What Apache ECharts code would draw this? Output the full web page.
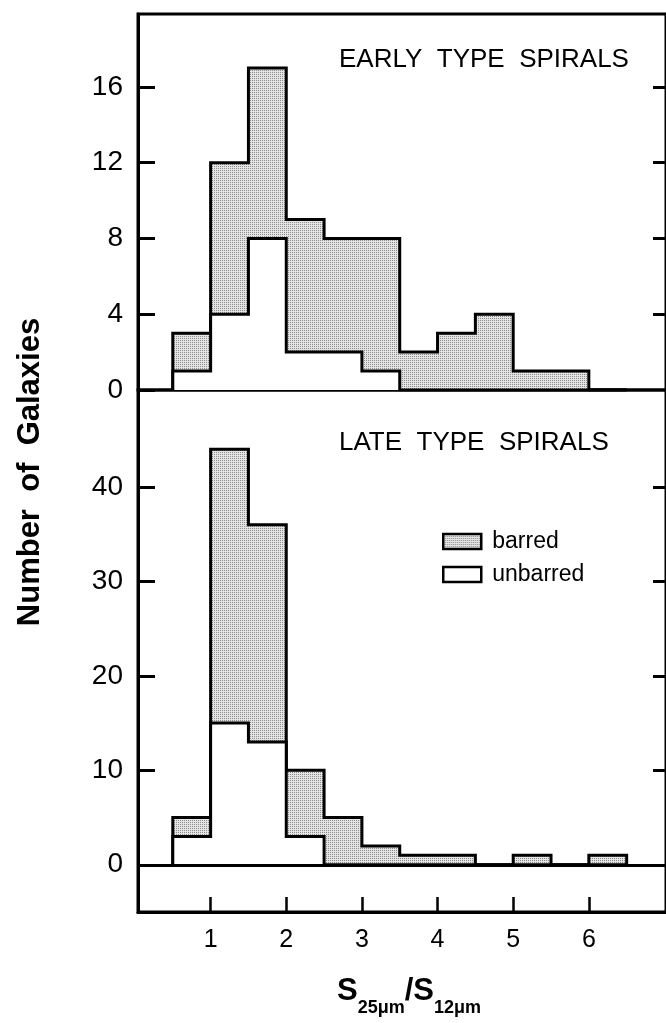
<!DOCTYPE html>
<html><head><meta charset="utf-8">
<script src="https://cdn.jsdelivr.net/npm/echarts@6/dist/echarts.min.js"></script>
<style>html,body{margin:0;padding:0;background:#fff}#c{width:666px;height:1023px}</style>
</head><body><div id="c"></div>
<script>
// ---- data ----
const binEdges = [0.5, 1, 1.5, 2, 2.5, 3, 3.5, 4, 4.5, 5, 5.5, 6, 6.5];
const earlyBarred   = [2, 8, 9, 7, 6, 7, 2, 3, 4, 1, 1, 0];
const earlyUnbarred = [1, 4, 8, 2, 2, 1, 0, 0, 0, 0, 0, 0];
const lateBarred    = [2, 29, 23, 7, 5, 2, 1, 1, 0, 1, 0, 1];
const lateUnbarred  = [3, 15, 13, 3, 0, 0, 0, 0, 0, 0, 0, 0];
const xTicks = [1, 2, 3, 4, 5, 6];
const earlyYTicks = [0, 4, 8, 12, 16];
const lateYTicks = [0, 10, 20, 30, 40];
const earlyTitle = 'EARLY  TYPE  SPIRALS';
const lateTitle = 'LATE  TYPE  SPIRALS';
const legendNames = ['barred', 'unbarred'];
const yName = 'Number  of  Galaxies';
const xNameParts = [['S', 'big'], ['25μm', 'sub'], ['/S', 'big'], ['12μm', 'sub']];

// ---- helpers ----
const FF = '"Liberation Sans", Arial, sans-serif';
function total(a, b) { return a.map((v, i) => v + b[i]); }
function steps(vals) {
  const pts = [[binEdges[0], 0]];
  vals.forEach((v, i) => { pts.push([binEdges[i], v]); pts.push([binEdges[i + 1], v]); });
  pts.push([binEdges[vals.length], 0]);
  return pts;
}
const pc = document.createElement('canvas');
pc.width = 2; pc.height = 2;
const g = pc.getContext('2d');
g.fillStyle = '#e4e4e4'; g.fillRect(0, 0, 2, 2);
g.fillStyle = '#8c8c8c'; g.fillRect(0, 0, 1, 1);
const fillPattern = { image: pc, repeat: 'repeat' };

const XMIN = 0.04, XMAX = 7.02;
function xAxisCfg(gi, showLabels) {
  return {
    type: 'value', gridIndex: gi, min: XMIN, max: XMAX, position: 'bottom',
    axisLine: { show: showLabels, onZero: false, lineStyle: { color: '#000', width: 3 } },
    axisTick: { show: showLabels, inside: true, length: 15, customValues: xTicks, lineStyle: { color: '#000', width: 2.5 } },
    axisLabel: { show: showLabels, customValues: xTicks, fontSize: 25, fontFamily: FF, color: '#000', margin: 16 },
    splitLine: { show: false }
  };
}
function yAxisCfg(gi, min, max, ticks, right) {
  return {
    type: 'value', gridIndex: gi, min: min, max: max, position: right ? 'right' : 'left',
    axisLine: { show: true, lineStyle: { color: '#000', width: 3 } },
    axisTick: { show: true, inside: true, length: right ? 13 : 17, customValues: right ? ticks.filter(t => t !== 0) : ticks, lineStyle: { color: '#000', width: 3 } },
    axisLabel: { show: !right, customValues: ticks, fontSize: 28, fontFamily: FF, color: '#000', margin: 15 },
    splitLine: { show: false }
  };
}
function lineSeries(name, xi, yi, vals, fill, z, extra) {
  return Object.assign({
    type: 'line', name: name, xAxisIndex: xi, yAxisIndex: yi, data: steps(vals),
    symbol: 'none', showSymbol: false, silent: true, animation: false, z: z,
    itemStyle: { color: '#000' },
    lineStyle: { color: '#000', width: 3, join: 'miter' },
    areaStyle: { color: fill, opacity: 1 }
  }, extra || {});
}

// x-axis name with true subscripts, laid out by measured widths
const fonts = { big: 'bold 31px ' + FF, sub: 'bold 18px ' + FF };
const centersY = { big: 991, sub: 1008 };
const mctx = document.createElement('canvas').getContext('2d');
const widths = xNameParts.map(p => { mctx.font = fonts[p[1]]; return mctx.measureText(p[0]).width; });
let cx = 409 - widths.reduce((a, b) => a + b, 0) / 2;
const xNameGraphics = xNameParts.map((p, i) => {
  const el = { type: 'text', x: cx, y: centersY[p[1]], style: { text: p[0], font: fonts[p[1]], fill: '#000', align: 'left', verticalAlign: 'middle' } };
  cx += widths[i];
  return el;
});

const chart = echarts.init(document.getElementById('c'), null, { renderer: 'canvas' });
chart.setOption({
  animation: false,
  backgroundColor: '#fff',
  grid: [
    { left: 138, top: 14, width: 534, height: 376, show: true, borderColor: '#000', borderWidth: 3, backgroundColor: 'transparent' },
    { left: 138, top: 390, width: 534, height: 522, show: true, borderColor: '#000', borderWidth: 3, backgroundColor: 'transparent' }
  ],
  xAxis: [xAxisCfg(0, false), xAxisCfg(1, true)],
  yAxis: [
    yAxisCfg(0, 0, 19.85, earlyYTicks, false),
    yAxisCfg(0, 0, 19.85, earlyYTicks, true),
    yAxisCfg(1, -5, 50.26, lateYTicks, false),
    yAxisCfg(1, -5, 50.26, lateYTicks, true)
  ],
  legend: {
    left: 442, top: 530, orient: 'vertical', padding: 0, itemWidth: 38, itemHeight: 15, itemGap: 10,
    selectedMode: false,
    textStyle: { fontSize: 23, fontFamily: FF, color: '#000', padding: [0, 0, 0, 6] },
    data: [
      { name: legendNames[0], icon: 'rect', itemStyle: { color: fillPattern, borderColor: '#000', borderWidth: 2.5 } },
      { name: legendNames[1], icon: 'rect', itemStyle: { color: '#fff', borderColor: '#000', borderWidth: 2.5 } }
    ]
  },
  series: [
    lineSeries(legendNames[0], 0, 0, total(earlyBarred, earlyUnbarred), fillPattern, 2),
    lineSeries(legendNames[1], 0, 0, earlyUnbarred, '#fff', 3),
    lineSeries(legendNames[0], 1, 2, total(lateBarred, lateUnbarred), fillPattern, 2, {
      markLine: { symbol: 'none', silent: true, label: { show: false }, animation: false,
        lineStyle: { color: '#000', width: 3, type: 'solid' }, data: [{ yAxis: 0 }] }
    }),
    lineSeries(legendNames[1], 1, 2, lateUnbarred, '#fff', 3)
  ],
  graphic: [
    { type: 'text', left: 339, top: 47, style: { text: earlyTitle, font: '26px ' + FF, fill: '#000' } },
    { type: 'text', left: 339, top: 430, style: { text: lateTitle, font: '26px ' + FF, fill: '#000' } },
    { type: 'text', x: 30, y: 472, rotation: Math.PI / 2,
      style: { text: yName, font: 'bold 31px ' + FF, fill: '#000', align: 'center', verticalAlign: 'middle' } }
  ].concat(xNameGraphics)
});
</script>
</body></html>
